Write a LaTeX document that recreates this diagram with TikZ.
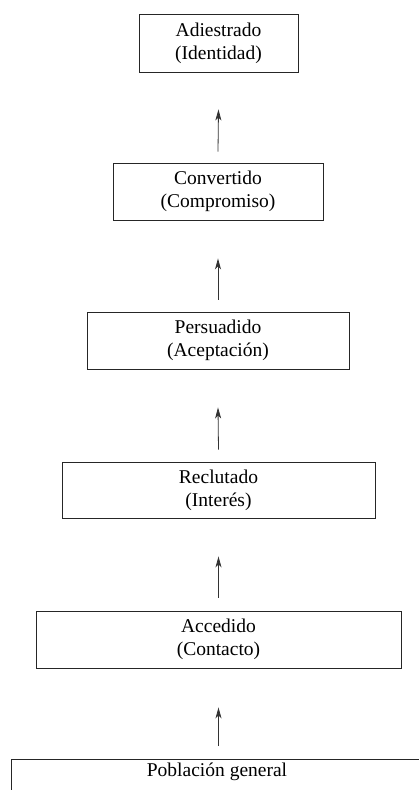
\documentclass[tikz,border=0pt]{standalone}
\usepackage{fontspec}
\setmainfont{Liberation Serif}
\usetikzlibrary{arrows.meta}
\begin{document}
\begin{tikzpicture}[x=1pt,y=-1pt,
  stage/.style={draw=black!85, line width=0.9pt, inner sep=0pt, align=center,
    font=\fontsize{19.5}{23}\selectfont},
  lbl/.style={inner sep=0pt, font=\fontsize{19.5}{23}\selectfont},
  arr/.style={draw=black!80, line width=0.8pt,
    -{Stealth[length=11pt,width=6pt,inset=3pt]}}]
\clip (0,0) rectangle (419,790);
\fill[white] (0,0) rectangle (419,790);
\node[stage, minimum width=159pt, minimum height=58pt] (b1) at (218.5,43) {Adiestrado\\(Identidad)};
\node[stage, minimum width=210pt, minimum height=57pt] (b2) at (218,191.5) {Convertido\\(Compromiso)};
\node[stage, minimum width=262pt, minimum height=57pt] (b3) at (218,340.5) {Persuadido\\(Aceptación)};
\node[stage, minimum width=313pt, minimum height=56pt] (b4) at (218.5,490) {Reclutado\\(Interés)};
\node[stage, minimum width=365pt, minimum height=57pt] (b5) at (218.5,639.5) {Accedido\\(Contacto)};
\node[draw=black!85, line width=0.9pt, inner sep=0pt, minimum width=430pt, minimum height=60pt, anchor=north west] (b6) at (11,759) {};
\node[lbl, anchor=base] (t6) at ([yshift=-17pt]b6.north -| 217,0) {Población general};
\draw[arr] ([yshift=11pt]b2.north) -- ([yshift=-37pt]b1.south);
\draw[arr] ([yshift=12pt]b3.north) -- ([yshift=-38pt]b2.south);
\draw[arr] ([yshift=12pt]b4.north) -- ([yshift=-38pt]b3.south);
\draw[arr] ([yshift=13pt]b5.north) -- ([yshift=-38pt]b4.south);
\draw[arr] ([yshift=13pt]b6.north -| b5.south) -- ([yshift=-39pt]b5.south);
\end{tikzpicture}
\end{document}
